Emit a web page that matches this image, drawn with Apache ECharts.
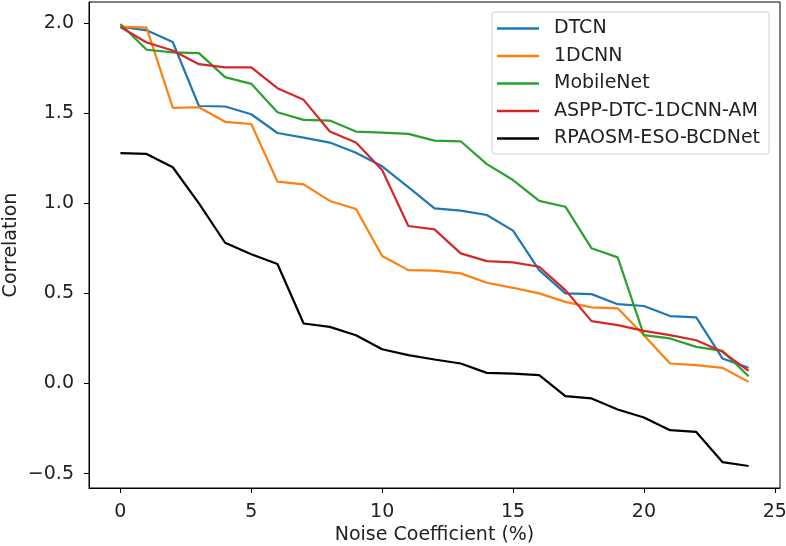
<!DOCTYPE html>
<html>
<head>
<meta charset="utf-8">
<script src="https://cdn.jsdelivr.net/npm/echarts@6/dist/echarts.min.js"></script>
<style>html,body{margin:0;padding:0;background:#fff}#c{width:786px;height:546px}</style>
</head>
<body>
<div id="c"></div>
<script>
const noise = [0,1,2,3,4,5,6,7,8,9,10,11,12,13,14,15,16,17,18,19,20,21,22,23,24];
const seriesNames = ['DTCN','1DCNN','MobileNet','ASPP-DTC-1DCNN-AM','RPAOSM-ESO-BCDNet'];
const dtcn = [1.98,1.96,1.895,1.54,1.537,1.494,1.39,1.364,1.337,1.28,1.205,1.09,0.972,0.959,0.935,0.848,0.629,0.50,0.496,0.44,0.43,0.374,0.367,0.139,0.087];
const cnn1d = [1.98,1.975,1.53,1.533,1.452,1.44,1.12,1.105,1.013,0.968,0.707,0.629,0.626,0.611,0.559,0.531,0.50,0.453,0.422,0.417,0.268,0.111,0.102,0.087,0.009];
const mobilenet = [1.995,1.852,1.837,1.833,1.70,1.663,1.505,1.463,1.459,1.398,1.392,1.385,1.348,1.344,1.217,1.129,1.013,0.981,0.75,0.70,0.268,0.25,0.203,0.181,0.04];
const aspp = [1.978,1.892,1.848,1.772,1.754,1.754,1.639,1.574,1.398,1.337,1.185,0.874,0.855,0.722,0.679,0.672,0.648,0.518,0.346,0.324,0.292,0.268,0.24,0.176,0.07];
const rpaosm = [1.278,1.274,1.20,1.0,0.781,0.717,0.663,0.333,0.314,0.268,0.19,0.157,0.133,0.111,0.059,0.055,0.046,-0.07,-0.083,-0.144,-0.189,-0.259,-0.269,-0.436,-0.458];
const xTicks = [0,5,10,15,20,25];
const yTicks = [-0.5,0.0,0.5,1.0,1.5,2.0];
const colors = ['#1f77b4','#ff7f0e','#2ca02c','#d62728','#000000'];
const allData = [dtcn,cnn1d,mobilenet,aspp,rpaosm];

const font = 'DejaVu Sans';
const fs = 19;
const chart = echarts.init(document.getElementById('c'), null, {renderer:'canvas'});
const axisCommon = {
  axisLine:{show:true,onZero:false,lineStyle:{color:'#000',width:1}},
  axisTick:{show:true,inside:false,length:5,lineStyle:{color:'#000',width:1}},
  splitLine:{show:false},
  nameMoveOverlap:false,
  axisLabel:{color:'#222',fontFamily:font,fontSize:fs,margin:15}
};
chart.setOption({
  animation:false,
  backgroundColor:'#fff',
  color:colors,
  grid:{left:89,right:6,top:2,bottom:58,show:true,borderColor:'#000',borderWidth:1,containLabel:false,outerBoundsMode:'none'},
  xAxis:Object.assign({}, axisCommon, {
    type:'value', min:-1.2, max:25.2,
    name:'Noise Coefficient (%)', nameLocation:'middle', nameGap:38,
    nameTextStyle:{color:'#222',fontFamily:font,fontSize:fs},
    axisTick:Object.assign({}, axisCommon.axisTick, {customValues:xTicks}),
    axisLabel:Object.assign({}, axisCommon.axisLabel, {customValues:xTicks, formatter:v=>String(v)})
  }),
  yAxis:Object.assign({}, axisCommon, {
    type:'value', min:-0.58, max:2.117,
    name:'Correlation', nameLocation:'middle', nameGap:68, nameRotate:90,
    nameTextStyle:{color:'#222',fontFamily:font,fontSize:fs},
    axisTick:Object.assign({}, axisCommon.axisTick, {customValues:yTicks}),
    axisLabel:Object.assign({}, axisCommon.axisLabel, {customValues:yTicks, formatter:v=>(v<0?'\u2212':'')+Math.abs(v).toFixed(1)})
  }),
  legend:{
    show:true, orient:'vertical', left:492, top:12,
    data:seriesNames,
    icon:'rect', itemWidth:42, itemHeight:2.5, itemGap:8.5,
    padding:[7,9,6,5],
    backgroundColor:'rgba(255,255,255,0.8)', borderColor:'#d0d0d0', borderWidth:1, borderRadius:3,
    textStyle:{color:'#222',fontFamily:font,fontSize:fs,lineHeight:19, padding:[0,0,0,10]}
  },
  series: seriesNames.map((n,i)=>({
    name:n, type:'line', symbol:'none', showSymbol:false,
    data: noise.map((x,j)=>[x, allData[i][j]]),
    lineStyle:{width:2.2,color:colors[i]}, itemStyle:{color:colors[i]},
    z: 2+i
  }))
});
</script>
</body>
</html>
